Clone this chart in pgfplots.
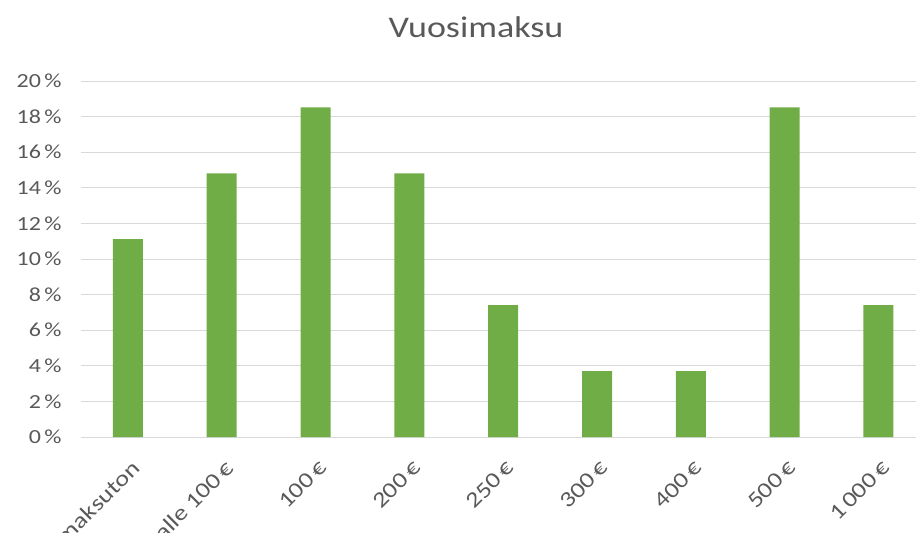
\documentclass[border=0pt]{standalone}
\usepackage{fontspec}
\setmainfont{Carlito}[FakeStretch=1.2]
\usepackage{pgfplots}
\pgfplotsset{compat=1.18}
\definecolor{bargreen}{HTML}{70AD47}
\definecolor{txtgray}{HTML}{595959}
\definecolor{gridgray}{HTML}{D9D9D9}
\begin{document}
\begin{tikzpicture}
\path[use as bounding box] (-81bp,-96bp) rectangle (835bp,437bp);
\begin{axis}[
  scale only axis,
  width=835bp, height=356bp,
  xmin=-0.5, xmax=8.4,
  ymin=0, ymax=20,
  axis line style={draw=none},
  major tick length=0pt,
  ymajorgrids,
  grid style={gridgray, line width=0.8bp},
  ytick={0,2,...,20},
  yticklabels={0\,\%,2\,\%,4\,\%,6\,\%,8\,\%,10\,\%,12\,\%,14\,\%,16\,\%,18\,\%,20\,\%},
  xtick={0,...,8},
  xticklabels={maksuton,alle 100\,€,100\,€,200\,€,250\,€,300\,€,400\,€,500\,€,1\,000\,€},
  tick label style={font=\fontsize{20bp}{24bp}\selectfont, text=txtgray},
  yticklabel style={anchor=east, xshift=-16bp},
  xticklabel style={rotate=45, anchor=north east, inner sep=0pt, yshift=-17bp, xshift=-14bp, font=\fontsize{22bp}{26bp}\selectfont},
  title={Vuosimaksu},
  title style={at={(axis description cs:0.473,1.135)}, anchor=center, font=\fontsize{30bp}{36bp}\selectfont, text=txtgray},
]
\addplot[ybar, bar width=30bp, fill=bargreen, draw=none] coordinates {
  (0,11.11) (1,14.81) (2,18.52) (3,14.81) (4,7.41) (5,3.70) (6,3.70) (7,18.52) (8,7.41)
};
\end{axis}
\end{tikzpicture}
\end{document}
